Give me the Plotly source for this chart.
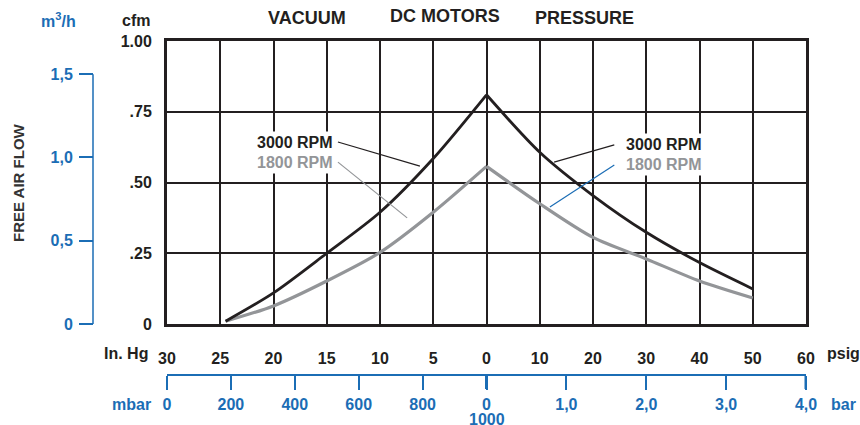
import plotly.graph_objects as go

# ---------------- data ----------------
vac_inhg = [24.5, 20, 15, 10, 5, 0]
press_psig = [0, 10, 20, 30, 40, 50]
cfm_3000_vac = [0.01, 0.11, 0.25, 0.395, 0.585, 0.81]
cfm_3000_press = [0.81, 0.607, 0.454, 0.324, 0.217, 0.124]
cfm_1800_vac = [0.01, 0.064, 0.152, 0.253, 0.395, 0.557]
cfm_1800_press = [0.557, 0.425, 0.306, 0.23, 0.152, 0.092]

vac_ticks = [30, 25, 20, 15, 10, 5, 0]
psig_ticks = [10, 20, 30, 40, 50, 60]
mbar_ticks = [0, 200, 400, 600, 800, 1000]
mbar_labels = ["0", "200", "400", "600", "800", "0"]
bar_ticks = [1.0, 2.0, 3.0, 4.0]
bar_labels = ["1,0", "2,0", "3,0", "4,0"]
cfm_ticks = [0, 0.25, 0.5, 0.75, 1.0]
cfm_labels = ["0", ".25", ".50", ".75", "1.00"]
m3h_ticks = [0, 0.5, 1.0, 1.5]
m3h_labels = ["0", "0,5", "1,0", "1,5"]

CFM_TO_M3H = 1.699
PSI_PER_BAR = 15.0

# ---------------- scales ----------------
def vac_pos(inhg):
    return (30 - inhg) / 5.0

def psig_pos(p):
    return 6 + p / 10.0

def mbar_pos(m):
    return vac_pos(30 * (1 - m / 1000.0))

def bar_pos(b):
    return psig_pos(b * PSI_PER_BAR)

# ---------------- style ----------------
W, H = 860, 425
ML, MR, MT, MB = 10, 10, 41, 10
PW, PH = W - ML - MR, H - MT - MB
PL, PR, PT, PB = 167, 806, 41, 324

def px(x):
    return (x - ML) / PW

def py(y):
    return (H - MB - y) / PH

BLACK = "#231f20"
GRAY = "#939598"
BLUE = "#1b6db5"
FONT = "Liberation Sans, Arial, sans-serif"

fig = go.Figure()

def add(xs, ys, color, width):
    fig.add_trace(go.Scatter(x=xs, y=ys, mode="lines",
                             line=dict(color=color, width=width, shape="spline", smoothing=0.8),
                             hoverinfo="skip", showlegend=False))

add([vac_pos(v) for v in vac_inhg], cfm_1800_vac, GRAY, 3.2)
add([psig_pos(p) for p in press_psig], cfm_1800_press, GRAY, 3.2)
add([vac_pos(v) for v in vac_inhg], cfm_3000_vac, BLACK, 2.8)
add([psig_pos(p) for p in press_psig], cfm_3000_press, BLACK, 2.8)

# dummy traces for secondary axes
fig.add_trace(go.Scatter(x=[None], y=[None], xaxis="x2", yaxis="y", showlegend=False, hoverinfo="skip"))
fig.add_trace(go.Scatter(x=[None], y=[None], xaxis="x", yaxis="y2", showlegend=False, hoverinfo="skip"))

x_tickvals = [vac_pos(v) for v in vac_ticks] + [psig_pos(p) for p in psig_ticks]
x_ticktext = [str(v) for v in vac_ticks] + [str(p) for p in psig_ticks]
x2_tickvals = [mbar_pos(m) for m in mbar_ticks] + [bar_pos(b) for b in bar_ticks]
x2_ticktext = mbar_labels + bar_labels

tf = dict(family=FONT, size=16, color=BLACK, weight="bold")
tfb = dict(family=FONT, size=16, color=BLUE, weight="bold")

fig.update_layout(
    width=W, height=H,
    margin=dict(l=ML, r=MR, t=MT, b=MB, autoexpand=False),
    paper_bgcolor="white", plot_bgcolor="rgba(0,0,0,0)",
    showlegend=False,
    xaxis=dict(domain=[px(PL), px(PR)], range=[0, 12], tickvals=x_tickvals, ticktext=x_ticktext,
               showgrid=True, gridcolor=BLACK, gridwidth=2, zeroline=False, automargin=False,
               showline=True, linecolor=BLACK, linewidth=3, mirror=True,
               ticks="outside", ticklen=18, tickcolor="rgba(0,0,0,0)", tickfont=tf),
    yaxis=dict(domain=[py(PB), py(PT)], range=[0, 1.0], tickvals=cfm_ticks, ticktext=cfm_labels,
               showgrid=True, gridcolor=BLACK, gridwidth=2, zeroline=False, automargin=False,
               showline=True, linecolor=BLACK, linewidth=3, mirror=True,
               ticks="outside", ticklen=9, tickcolor="rgba(0,0,0,0)", tickfont=tf),
    xaxis2=dict(overlaying="x", anchor="free", position=py(375), side="bottom", range=[0, 12],
                tickvals=x2_tickvals, ticktext=x2_ticktext, showgrid=False, zeroline=False,
                automargin=False,
                showline=True, linecolor=BLUE, linewidth=1.5, ticks="outside", ticklen=14,
                tickcolor=BLUE, tickwidth=1.5, tickfont=tfb, ticklabelstandoff=1),
    yaxis2=dict(overlaying="y", anchor="free", position=px(93), side="left",
                range=[0, 1.0 * CFM_TO_M3H], tickvals=m3h_ticks, ticktext=m3h_labels,
                showgrid=False, zeroline=False, showline=False, ticks="outside", ticklen=14,
                automargin=False,
                tickcolor=BLUE, tickwidth=1.5, tickfont=tfb, ticklabelstandoff=3),
)

shapes = []
# left blue axis line (0 to 1.5 m3/h)
shapes.append(dict(type="line", xref="paper", yref="y2", x0=px(93), x1=px(93), y0=0, y1=1.5,
                   line=dict(color=BLUE, width=1.5)))
# heavier ticks at 1000 mbar and 4,0 bar
for xv in [mbar_pos(1000), bar_pos(4.0)]:
    shapes.append(dict(type="line", xref="x", yref="paper", x0=xv, x1=xv, y0=py(375), y1=py(389),
                       line=dict(color=BLUE, width=3)))

def leader(x0, y0, x1, y1, color):
    shapes.append(dict(type="line", xref="x", yref="y", x0=x0, y0=y0, x1=x1, y1=y1,
                       line=dict(color=color, width=1.2)))

annotations = []

def label(text, x, y, color, xanchor):
    annotations.append(dict(text=text, x=x, y=y, xref="x", yref="y", showarrow=False,
                            xanchor=xanchor, yanchor="middle", bgcolor="white", borderpad=2,
                            font=dict(family=FONT, size=16, color=color, weight="bold")))

label("3000 RPM", 3.17, 0.643, BLACK, "right")
label("1800 RPM", 3.17, 0.572, GRAY, "right")
label("3000 RPM", 8.56, 0.633, BLACK, "left")
label("1800 RPM", 8.56, 0.562, GRAY, "left")
leader(3.21, 0.643, 4.75, 0.558, BLACK)
leader(3.21, 0.572, 4.51, 0.375, GRAY)
leader(8.40, 0.633, 7.27, 0.572, BLACK)
leader(8.40, 0.562, 7.19, 0.413, BLUE)

def ptext(text, x, y, color, size=16, xanchor="center"):
    annotations.append(dict(text=text, x=px(x), y=py(y), xref="paper", yref="paper", showarrow=False,
                            xanchor=xanchor, yanchor="middle",
                            font=dict(family=FONT, size=size, color=color, weight="bold")))

ptext("VACUUM", 307, 18, BLACK, 18)
ptext("DC MOTORS", 445, 16, BLACK, 18)
ptext("PRESSURE", 584, 18, BLACK, 18)
ptext("cfm", 136, 20, BLACK)
ptext("m<sup>3</sup>/h", 58, 20, BLUE)
ptext("In. Hg", 126, 353, BLACK)
ptext("psig", 843, 353, BLACK)
ptext("mbar", 131, 404, BLUE)
ptext("bar", 843, 404, BLUE)
# second line under the shared 0 / 1000 mbar tick
annotations.append(dict(text=str(mbar_ticks[-1]), x=mbar_pos(mbar_ticks[-1]), y=py(419),
                        xref="x", yref="paper", showarrow=False, xanchor="center", yanchor="middle",
                        font=dict(family=FONT, size=16, color=BLUE, weight="bold")))
annotations.append(dict(text="FREE AIR FLOW", x=px(18), y=py(183), xref="paper", yref="paper",
                        showarrow=False, textangle=-90, xanchor="center", yanchor="middle",
                        font=dict(family=FONT, size=15, color="#333333", weight="bold")))

fig.update_layout(shapes=shapes, annotations=annotations)
fig.write_html("out.html", config={"displayModeBar": False},
               post_script="document.body.style.margin='0px';document.body.style.overflow='hidden';")
